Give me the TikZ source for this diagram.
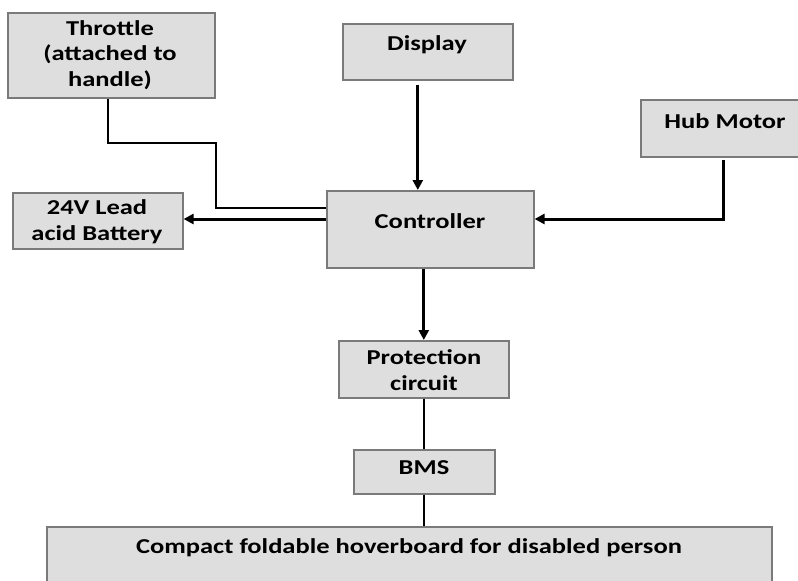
\documentclass[tikz,border=0pt]{standalone}
\usepackage{fontspec}
\setmainfont{Carlito}[FakeStretch=1.25]
\usetikzlibrary{arrows.meta,calc}
\definecolor{boxfill}{HTML}{DEDEDE}
\definecolor{boxdraw}{HTML}{7A7A7A}
\tikzset{
  blockbox/.style={draw=boxdraw, fill=boxfill, line width=1.6pt, inner sep=0pt, anchor=north west},
  lbl/.style={font=\fontsize{21.2}{25.8}\selectfont\bfseries, align=center, inner sep=0pt},
  arr/.style={line width=3pt, -{Triangle[length=10pt,width=10pt]}},
  wire/.style={line width=2pt},
}
\begin{document}
\begin{tikzpicture}[x=1pt,y=-1pt]
\useasboundingbox (0,0) rectangle (798,581);
\clip (0,0) rectangle (798,581);
\fill[white] (0,0) rectangle (798,581);
% boxes
\node[blockbox, minimum width=207pt, minimum height=85pt] (thr) at (7,12) {};
\node[blockbox, minimum width=170pt, minimum height=56pt] (disp) at (342,23) {};
\node[blockbox, minimum width=165pt, minimum height=57pt] (hub) at (640,99) {};
\node[blockbox, minimum width=170pt, minimum height=56pt] (bat) at (12,192) {};
\node[blockbox, minimum width=207pt, minimum height=77pt] (ctrl) at (326,190) {};
\node[blockbox, minimum width=170pt, minimum height=57pt] (prot) at (338,340) {};
\node[blockbox, minimum width=141pt, minimum height=44pt] (bms) at (353,449) {};
\node[blockbox, minimum width=725pt, minimum height=80pt] (base) at (46,526) {};
% labels
\node[lbl] (thrT) at (110,55) {Throttle\\(attached to\\handle)};
\node[lbl] (dispT) at (427,45) {Display};
\node[lbl] (hubT) at (725,121) {Hub Motor};
\node[lbl] (batT) at (97,222) {24V Lead\\acid Battery};
\node[lbl] (ctrlT) at (430,221) {Controller};
\node[lbl] (protT) at (424,370) {Protection\\circuit};
\node[lbl] (bmsT) at (424,468) {BMS};
\node[lbl] (baseT) at (409,548) {Compact foldable hoverboard for disabled person};
% connectors
\coordinate (thrA) at ([xshift=-3.5pt]thr.south);
\coordinate (thrB) at (216,143);
\draw[wire] (thrA) -- (thrA |- thrB) -- (thrB) -- (thrB |- 0,208) -- (ctrl.west |- 0,208);
\coordinate (dispA) at ([shift={(-10,4)}]disp.south);
\draw[arr] (dispA) -- (dispA |- ctrl.north);
\coordinate (hubA) at (723,160);
\coordinate (hubB) at (723,219);
\draw[arr] (hubA) -- (hubB) -- (hubB -| ctrl.east);
\draw[arr] (ctrl.west |- 0,219) -- (bat.east |- 0,219);
\coordinate (ctrlA) at ([xshift=-6.5pt]ctrl.south);
\draw[arr] (ctrlA) -- (ctrlA |- prot.north);
\draw[wire] (prot.south -| 424,0) -- (bms.north -| 424,0);
\draw[wire] (bms.south -| 424,0) -- (base.north -| 424,0);
\end{tikzpicture}
\end{document}
